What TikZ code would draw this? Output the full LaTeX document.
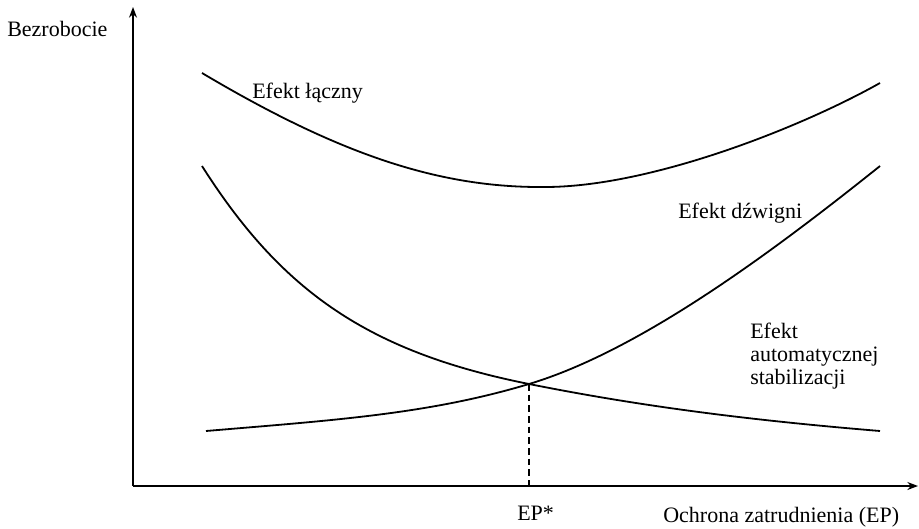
\documentclass[tikz,border=0pt]{standalone}
\usepackage{fontspec}
\setmainfont{Liberation Serif}
\usetikzlibrary{arrows.meta}
\tikzset{
  lbl/.style={font=\fontsize{16.5}{17.25}\selectfont, inner sep=0pt},
  axis/.style={line width=1pt, -{Stealth[length=8pt, width=6pt]}},
  curve/.style={line width=1.35pt}
}

\begin{document}
\begin{tikzpicture}[x=0.75pt, y=-0.75pt]
  \useasboundingbox (0,0) rectangle (919,528);
  % axes
  \coordinate (o) at (133,486);
  \coordinate (ytip) at (133,7);
  \coordinate (xtip) at (918,486);
  \coordinate (ep) at (529,384);
  \draw[axis] (o) -- (ytip);
  \draw[axis] (o) -- (xtip);
  \draw[line width=1pt, dash pattern=on 5pt off 3pt] (ep) -- (ep |- o);

  % curves
  \draw[curve] (202,73) .. controls (340,155) and (440,188) .. (545,187)
                        .. controls (650,187) and (800,128) .. (880,83);
  \draw[curve] (202,166) .. controls (282,292) and (369,352) .. (ep)
                         .. controls (649,408) and (760,421) .. (880,431);
  \draw[curve] (206,431) .. controls (336,420) and (429,414) .. (ep)
                         .. controls (639,351) and (770,254) .. (880,166);

  % labels
  \node[lbl, anchor=base west] (ylab) at (7,37) {Bezrobocie};
  \node[lbl, anchor=base west] (xlab) at (663,522) {Ochrona zatrudnienia (EP)};
  \node[lbl, anchor=base west] (eplab) at (517,520) {EP*};
  \node[lbl, anchor=base west] (laczny) at (252,98) {Efekt łączny};
  \node[lbl, anchor=base west] (dzwignia) at (678,218) {Efekt dźwigni};
  \node[lbl, anchor=north west, align=left] (stab) at (750,323) {Efekt\\automatycznej\\stabilizacji};
\end{tikzpicture}
\end{document}
